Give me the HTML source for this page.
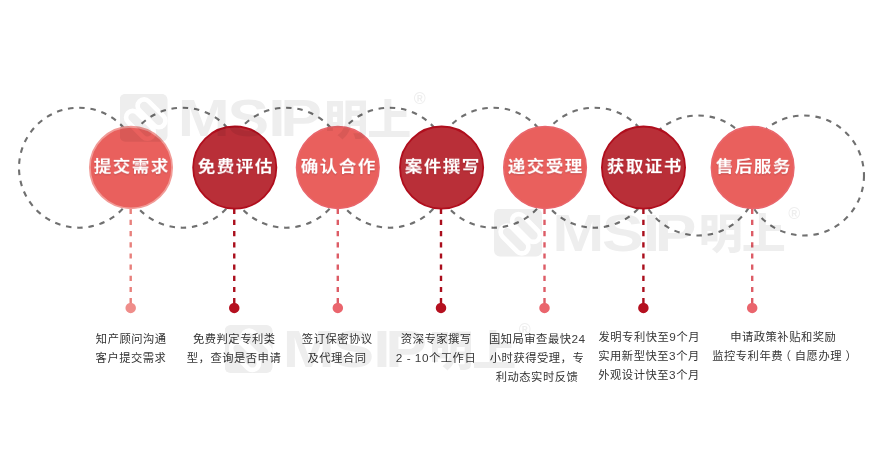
<!DOCTYPE html>
<html lang="zh-CN">
<head>
<meta charset="utf-8">
<title>专利申请流程</title>
<style>
html,body{margin:0;padding:0;background:#fff;}
body{width:879px;height:464px;position:relative;overflow:hidden;font-family:"Liberation Sans","Noto Sans CJK SC",sans-serif;}
#g{position:absolute;left:0;top:0;width:879px;height:464px;display:block;}
.t{will-change:transform;transform:translateY(-0.5px) scaleY(0.955);position:absolute;top:0;width:120px;margin-left:-60px;text-align:center;color:#fff;font-weight:bold;font-size:17.6px;letter-spacing:1.4px;text-indent:1.4px;line-height:28px;white-space:nowrap;text-shadow:0 1px 1px rgba(120,10,20,.35);}
.c{will-change:transform;position:absolute;width:200px;margin-left:-100px;text-align:center;color:#333;font-weight:400;font-size:11.3px;letter-spacing:0.5px;text-indent:0.5px;line-height:19px;white-space:nowrap;}
span.n{font-size:11.8px;color:#3c3c3c;}
span.pl{position:relative;left:-3.2px;}
span.pr{position:relative;left:3.6px;}
#wm{position:absolute;left:0;top:0;width:879px;height:464px;display:block;pointer-events:none;}
</style>
</head>
<body>
<svg id="g" width="879" height="464" viewBox="0 0 879 464">
<g fill="none" stroke="#707070" stroke-width="2.1" stroke-dasharray="5.5 5.8">
<circle cx="79.0" cy="167.7" r="60"/>
<circle cx="182.5" cy="167.7" r="60"/>
<circle cx="285.9" cy="167.7" r="60"/>
<circle cx="389.6" cy="167.7" r="60"/>
<circle cx="493.3" cy="167.7" r="60"/>
<circle cx="594.4" cy="167.7" r="60"/>
<circle cx="698.2" cy="175.5" r="60"/>
<circle cx="804.0" cy="175.5" r="60"/>
</g>
<line x1="130.7" y1="208.7" x2="130.7" y2="304" stroke="#e8807c" stroke-width="2.4" stroke-dasharray="5.2 5.97"/>
<circle cx="130.7" cy="307.9" r="5.25" fill="#ef8d8a"/>
<ellipse cx="131.0" cy="167.6" rx="41.15" ry="40.85" fill="#e9605d" stroke="#f19b97" stroke-width="1.8"/>
<line x1="234.25" y1="208.7" x2="234.25" y2="304" stroke="#aa0e1c" stroke-width="2.4" stroke-dasharray="5.2 5.97"/>
<circle cx="234.25" cy="307.9" r="5.25" fill="#b5101f"/>
<ellipse cx="234.75" cy="167.6" rx="41.60" ry="41.10" fill="#b92f38" stroke="#b00e1d" stroke-width="1.8"/>
<line x1="337.8" y1="208.7" x2="337.8" y2="304" stroke="#dd5c66" stroke-width="2.4" stroke-dasharray="5.2 5.97"/>
<circle cx="337.8" cy="307.9" r="5.25" fill="#ea656d"/>
<ellipse cx="337.8" cy="167.6" rx="41.30" ry="41.00" fill="#e9605d" stroke="#e9666c" stroke-width="1.5"/>
<line x1="441.0" y1="208.7" x2="441.0" y2="304" stroke="#aa0e1c" stroke-width="2.4" stroke-dasharray="5.2 5.97"/>
<circle cx="441.0" cy="307.9" r="5.25" fill="#b5101f"/>
<ellipse cx="441.6" cy="167.6" rx="41.60" ry="41.10" fill="#b92f38" stroke="#b00e1d" stroke-width="1.8"/>
<line x1="544.5" y1="208.7" x2="544.5" y2="304" stroke="#dd5c66" stroke-width="2.4" stroke-dasharray="5.2 5.97"/>
<circle cx="544.5" cy="307.9" r="5.25" fill="#ea656d"/>
<ellipse cx="545.05" cy="167.6" rx="41.30" ry="41.00" fill="#e9605d" stroke="#e9666c" stroke-width="1.5"/>
<line x1="643.4" y1="208.7" x2="643.4" y2="304" stroke="#aa0e1c" stroke-width="2.4" stroke-dasharray="5.2 5.97"/>
<circle cx="643.4" cy="307.9" r="5.25" fill="#b5101f"/>
<ellipse cx="643.5" cy="167.6" rx="41.60" ry="41.10" fill="#b92f38" stroke="#b00e1d" stroke-width="1.8"/>
<line x1="752.2" y1="208.7" x2="752.2" y2="304" stroke="#dd5c66" stroke-width="2.4" stroke-dasharray="5.2 5.97"/>
<circle cx="752.2" cy="307.9" r="5.25" fill="#ea656d"/>
<ellipse cx="752.65" cy="167.6" rx="41.30" ry="41.00" fill="#e9605d" stroke="#e9666c" stroke-width="1.5"/>
</svg>
<div class="t" style="left:131.0px;top:153px">提交需求</div>
<div class="t" style="left:234.75px;top:153px">免费评估</div>
<div class="t" style="left:337.8px;top:153px">确认合作</div>
<div class="t" style="left:441.6px;top:153px">案件撰写</div>
<div class="t" style="left:545.05px;top:153px">递交受理</div>
<div class="t" style="left:643.5px;top:153px">获取证书</div>
<div class="t" style="left:752.65px;top:153px">售后服务</div>
<div class="c" style="left:130.5px;top:330.0px;line-height:19px">知产顾问沟通<br>客户提交需求</div>
<div class="c" style="left:233.9px;top:330.0px;line-height:19px">免费判定专利类<br>型，查询是否申请</div>
<div class="c" style="left:337.45px;top:330.0px;line-height:19px">签订保密协议<br>及代理合同</div>
<div class="c" style="left:435.5px;top:330.0px;line-height:19px">资深专家撰写<br><span class=n>2 - 10</span>个工作日</div>
<div class="c" style="left:537.2px;top:330.0px;line-height:19px">国知局审查最快<span class=n>24</span><br>小时获得受理，专<br>利动态实时反馈</div>
<div class="c" style="left:649.3px;top:328.0px;line-height:19px">发明专利快至<span class=n>9</span>个月<br>实用新型快至<span class=n>3</span>个月<br>外观设计快至<span class=n>3</span>个月</div>
<div class="c" style="left:782.9px;top:328.0px;line-height:19px">申请政策补贴和奖励<br>监控专利年费<span class=pl>（</span>自愿办理<span class=pr>）</span></div>
<svg id="wm" width="879" height="464" viewBox="0 0 879 464">
<defs>
<mask id="lm" maskUnits="userSpaceOnUse" x="0" y="0" width="49" height="49">
<rect x="0" y="0" width="49" height="49" fill="#fff"/>
<g fill="none" stroke="#000" stroke-width="4.6">
<rect x="-6.5" y="-17" width="13" height="34" rx="6.5" transform="translate(20.5 31) rotate(-45)"/>
<rect x="-6.5" y="-17" width="13" height="34" rx="6.5" transform="translate(32 19.5) rotate(-45)"/>
</g>
</mask>
</defs>
<g transform="translate(119.5 93.8)" opacity="0.066" fill="#000" font-family="Liberation Sans, Noto Sans CJK SC, sans-serif" font-weight="bold">
<rect x="0" y="0" width="48" height="48" rx="6" mask="url(#lm)"/>
<text transform="translate(0 42.4) scale(1.25 1.032)" font-size="50" x="46.58 86.5 119.05 128.66">MSIP</text>
<text transform="translate(0 40.9) scale(1.048 0.99)" font-size="42" font-weight="900" x="195.42 236.52">明上</text>
<text x="300.3" y="10.3" font-size="16.3" font-weight="bold" text-anchor="middle">®</text>
</g>
<g transform="translate(494 208.5)" opacity="0.066" fill="#000" font-family="Liberation Sans, Noto Sans CJK SC, sans-serif" font-weight="bold">
<rect x="0" y="0" width="48" height="48" rx="6" mask="url(#lm)"/>
<text transform="translate(0 42.4) scale(1.25 1.032)" font-size="50" x="46.58 86.5 119.05 128.66">MSIP</text>
<text transform="translate(0 40.9) scale(1.048 0.99)" font-size="42" font-weight="900" x="195.42 236.52">明上</text>
<text x="300.3" y="10.3" font-size="16.3" font-weight="bold" text-anchor="middle">®</text>
</g>
<g transform="translate(224.5 325)" opacity="0.066" fill="#000" font-family="Liberation Sans, Noto Sans CJK SC, sans-serif" font-weight="bold">
<rect x="0" y="0" width="48" height="48" rx="6" mask="url(#lm)"/>
<text transform="translate(0 42.4) scale(1.25 1.032)" font-size="50" x="46.58 86.5 119.05 128.66">MSIP</text>
<text transform="translate(0 40.9) scale(1.048 0.99)" font-size="42" font-weight="900" x="195.42 236.52">明上</text>
<text x="300.3" y="10.3" font-size="16.3" font-weight="bold" text-anchor="middle">®</text>
</g>
</svg>
</body>
</html>
